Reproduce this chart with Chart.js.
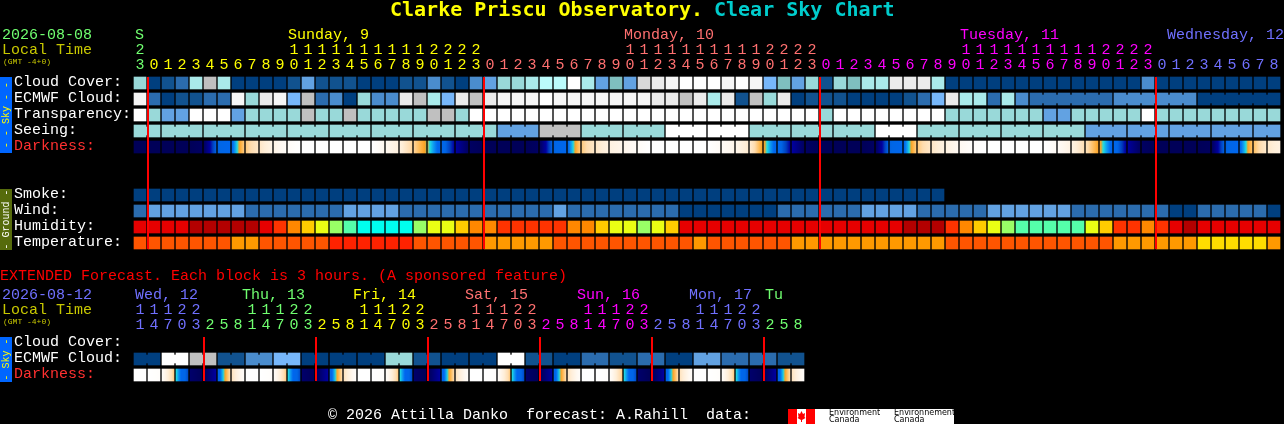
<!DOCTYPE html>
<html>
<head>
<meta charset="utf-8">
<title>Clarke Priscu Observatory. Clear Sky Chart</title>
<script src="https://cdn.jsdelivr.net/npm/chart.js@4"></script>
<style>
html,body{margin:0;padding:0;background:#000;width:1284px;height:424px;overflow:hidden}
canvas{position:absolute;left:0;display:block}
#top{top:0}
#ext{top:251px}
</style>
</head>
<body>
<canvas id="top" width="1284" height="251"></canvas>
<canvas id="ext" width="1284" height="173"></canvas>
<script>
// ---------- categories and tick labels ----------
const rowNames = ['Cloud Cover:','ECMWF Cloud:','Transparency:','Seeing:','Darkness:','','','Smoke:','Wind:','Humidity:','Temperature:'];
const extRowNames = ['Cloud Cover:','ECMWF Cloud:','Darkness:'];
const hours = [23,0,1,2,3,4,5,6,7,8,9,10,11,12,13,14,15,16,17,18,19,20,21,22,23,0,1,2,3,4,5,6,7,8,9,10,11,12,13,14,15,16,17,18,19,20,21,22,23,0,1,2,3,4,5,6,7,8,9,10,11,12,13,14,15,16,17,18,19,20,21,22,23,0,1,2,3,4,5,6,7,8];
const hourDay = [0,1,1,1,1,1,1,1,1,1,1,1,1,1,1,1,1,1,1,1,1,1,1,1,1,2,2,2,2,2,2,2,2,2,2,2,2,2,2,2,2,2,2,2,2,2,2,2,2,3,3,3,3,3,3,3,3,3,3,3,3,3,3,3,3,3,3,3,3,3,3,3,3,4,4,4,4,4,4,4,4,4];
const dayColors = ['#70ff70','#ffff00','#ff7070','#ff00ff','#7070ff'];
const extHours = [11,14,17,20,23,2,5,8,11,14,17,20,23,2,5,8,11,14,17,20,23,2,5,8,11,14,17,20,23,2,5,8,11,14,17,20,23,2,5,8,11,14,17,20,23,2,5,8];
const extDay = [0,0,0,0,0,1,1,1,1,1,1,1,1,2,2,2,2,2,2,2,2,3,3,3,3,3,3,3,3,4,4,4,4,4,4,4,4,5,5,5,5,5,5,5,5,6,6,6];
const extDayColors = ['#7070ff','#70ff70','#ffff00','#ff7070','#ff00ff','#7070ff','#70ff70'];
const midnights = [0,24,48,72];
const extMidnights = [4,12,20,28,36,44];

// ---------- palettes ----------
const skyPalette = ['#003f7f','#11528f','#2b6cae','#4a8ccd','#62a2e2','#77b7fa','#7fbfbf','#99d9d9','#aaeaea','#bbfbfb','#c0c0c0','#d9d9d9','#ebebeb','#f6f6f6','#ffffff'];
const humidityPalette = ['#b30000','#e60000','#ff3300','#ff8800','#ffcc00','#eaff14','#99ff66','#55ffaa','#00ffee'];
const temperaturePalette = ['#ff2200','#ff5500','#ff9900','#ffdd00'];

// ---------- series (palette levels) ----------
const cloudCover = [7,0,1,2,8,10,8,0,0,0,0,1,4,1,1,1,0,0,0,1,1,3,1,0,3,4,7,7,8,9,9,14,8,4,6,4,11,12,13,14,14,14,13,14,13,5,6,4,7,1,7,6,8,8,12,12,12,8,0,0,0,0,0,0,0,0,0,0,0,0,0,0,3,0,0,0,0,0,0,0,0,0];
const ecmwfCloud = [13,2,0,1,1,2,2,13,7,12,13,5,10,2,3,0,7,3,3,12,10,8,5,12,10,12,13,13,13,14,13,13,13,13,13,13,13,12,12,10,12,8,12,1,10,7,12,0,1,1,1,0,0,0,0,1,2,5,12,8,8,2,8,3,2,2,2,2,2,2,3,3,3,3,3,3,0,0,0,0,0,0];
const transparency = [14,7,4,4,14,14,14,4,7,7,7,7,10,7,7,10,7,7,7,7,7,10,10,7,14,14,14,14,14,14,14,14,14,14,14,14,14,14,14,14,14,14,14,14,14,14,14,14,14,7,14,14,14,14,14,14,14,14,7,7,7,7,7,7,7,4,4,7,7,7,7,7,14,7,7,7,7,7,7,7,7,7];
const seeing = [7,7,7,7,7,7,7,7,7,7,7,7,7,7,7,7,7,7,7,7,7,7,7,7,7,7,4,4,4,10,10,10,7,7,7,7,7,7,14,14,14,14,14,14,7,7,7,7,7,7,7,7,7,14,14,14,7,7,7,7,7,7,7,7,7,7,7,7,4,4,4,4,4,4,4,4,4,4,4,4,4,4];
const darkStart = [9,9,9,9,9,8.8,6.4,5.6,3.4,2.4,1.4,0.5,0,0,0,0,0,0,1,1.7,3.2,4.4,5.8,7.6,8.8,9,9,9,9,8.8,6.4,5.6,3.4,2.4,1.6,1.2,0.6,0,0,0,0,0,0.6,1.2,2.2,4.2,5.8,7.6,8.8,9,9,9,9,8.8,6.4,5.6,3.4,2.4,1.6,0.9,0.3,0,0,0,0,0,0.7,1.5,2.8,4.2,5.7,7.7,8.8,9,9,9,9,8.9,6.4,5.6,3.6,2.3];
const darkEnd = [9,9,9,9,8.8,6.4,5.6,3.4,2.4,1.4,0.5,0,0,0,0,0,0,1,1.7,3.2,4.4,5.8,7.6,8.8,9,9,9,9,8.8,6.4,5.6,3.4,2.4,1.6,1.2,0.6,0,0,0,0,0,0.6,1.2,2.2,4.2,5.8,7.6,8.8,9,9,9,9,8.8,6.4,5.6,3.4,2.4,1.6,0.9,0.3,0,0,0,0,0,0.7,1.5,2.8,4.2,5.7,7.7,8.8,9,9,9,9,8.9,6.4,5.6,3.6,2.3,1.6];
const smoke = [0,0,0,0,0,0,0,0,0,0,0,0,0,0,0,0,0,0,0,0,0,0,0,0,0,0,0,0,0,0,0,0,0,0,0,0,0,0,0,0,0,0,0,0,0,0,0,0,0,0,0,0,0,0,0,0,0,0];
const wind = [2,4,4,4,4,4,4,4,2,2,2,2,2,2,2,4,4,4,4,2,2,2,2,2,2,2,2,2,2,2,4,2,2,2,2,2,2,2,2,0,0,0,0,0,0,0,2,2,2,2,2,2,4,4,4,4,2,2,2,2,2,4,4,4,4,4,4,2,2,2,2,2,2,2,0,0,2,2,2,2,2,0];
const humidity = [1,1,1,1,0,0,0,0,0,1,2,3,4,5,6,7,8,8,8,8,6,5,5,4,3,3,2,2,2,2,2,3,3,4,5,5,6,5,4,1,1,1,1,1,1,1,1,1,1,1,1,1,1,1,1,0,0,0,2,3,4,5,6,7,7,7,7,7,5,4,2,2,3,2,1,0,1,1,1,1,1,1];
const temperature = [1,1,1,1,1,1,1,2,2,1,1,1,1,1,0,0,0,0,0,0,1,1,1,1,1,2,2,2,2,2,1,1,1,1,1,1,1,1,1,1,2,1,1,1,1,1,1,2,2,2,2,2,2,2,2,2,2,2,1,1,1,1,1,1,1,1,1,1,1,1,2,2,2,2,2,2,3,3,3,3,3,2];
const extEcmwf = [0,0,14,14,10,10,1,1,3,3,5,5,0,0,0,0,0,0,7,7,1,1,0,0,0,0,14,14,1,1,0,0,2,2,1,1,2,2,0,0,4,4,2,2,2,2,1,1];
const extDarkStart = [0,0,0.5,4.6,8.6,9,6,2.6,0,0,0.5,4.6,8.6,9,6,2.6,0,0,0.5,4.6,8.6,9,6,2.6,0,0,0.5,4.6,8.6,9,6,2.6,0,0,0.5,4.6,8.6,9,6,2.6,0,0,0.5,4.6,8.6,9,6,2.6];
const extDarkEnd = [0,0.3,3.4,6.8,9,7.6,3,0.4,0,0.3,3.4,6.8,9,7.6,3,0.4,0,0.3,3.4,6.8,9,7.6,3,0.4,0,0.3,3.4,6.8,9,7.6,3,0.4,0,0.3,3.4,6.8,9,7.6,3,0.4,0,0.3,3.4,6.8,9,7.6,3,0.4];

// ---------- darkness colour ramp ----------
const rampPos = [0,1,2,3,3.8,4.3,4.6,5,5.5,6.3,7,7.6,8.5,9];
const rampCol = [[255,255,255],[255,248,240],[255,238,216],[255,220,174],[255,184,80],[250,160,32],[32,224,224],[16,160,240],[0,102,238],[0,102,230],[0,64,192],[0,0,160],[0,0,112],[0,0,88]];
function rampColor(v){
  for(let i=1;i<rampPos.length;i++){
    if(v<=rampPos[i]){
      const t=(v-rampPos[i-1])/(rampPos[i]-rampPos[i-1]);
      const a=rampCol[i-1],b=rampCol[i];
      return 'rgb('+a.map((c,k)=>Math.round(c+(b[k]-c)*t)).join(',')+')';
    }
  }
  return 'rgb('+rampCol[rampCol.length-1].join(',')+')';
}
function darknessFill(starts,ends){
  return function(ctx){
    const chart=ctx.chart, i=ctx.dataIndex;
    if(i===undefined||!chart.scales.x) return '#000';
    const left=chart.scales.x.getPixelForValue(i-0.5);
    const right=chart.scales.x.getPixelForValue(i+0.5);
    if(!isFinite(left)||!isFinite(right)) return '#000';
    const g=chart.ctx.createLinearGradient(left+1,0,right-1,0);
    for(let s=0;s<=12;s++){
      g.addColorStop(s/12,rampColor(starts[i]+(ends[i]-starts[i])*s/12));
    }
    return g;
  };
}

// ---------- chart helpers ----------
const CELL_H = 0.375, NECK_H = 0.25;
function cells(values,row,palette){
  return {
    data: values.map((v,i)=>({x:i,y:[row-CELL_H,row+CELL_H]})),
    backgroundColor: values.map(v=>palette[v]),
    barThickness:12, grouped:false, borderWidth:0
  };
}
function darkCells(starts,ends,row){
  return {
    data: starts.map((v,i)=>({x:i,y:[row-CELL_H,row+CELL_H]})),
    backgroundColor: darknessFill(starts,ends),
    barThickness:12, grouped:false, borderWidth:0
  };
}
function necks(values,row,palette,joined){
  const pts=[],cols=[];
  values.forEach((v,i)=>{
    if(i<values.length-1 && joined(i)){
      pts.push({x:i+0.5,y:[row-NECK_H,row+NECK_H]});
      cols.push(palette[v]);
    }
  });
  return {data:pts,backgroundColor:cols,barThickness:4,grouped:false,borderWidth:0};
}
const seeingBlock=i=>Math.floor((i+1)/3);
const MONO='"Liberation Mono", monospace';
const TITLE='"DejaVu Sans Mono", monospace';

function textLayer(items,extra){
  return {
    id:'textLayer',
    afterDatasetsDraw(chart){
      const c=chart.ctx;
      c.save();
      extra(chart,c);
      c.textBaseline='middle';c.textAlign='left';
      items.forEach(t=>{
        c.font=t.font||('15px '+MONO);
        c.fillStyle=t.color;
        c.fillText(t.text,t.x,t.y);
      });
      c.restore();
    }
  };
}
function sideBar(c,y0,y1,col,textCol,label){
  c.fillStyle=col;c.fillRect(0,y0,12,y1-y0);
  c.save();
  c.translate(6.5,(y0+y1)/2);c.rotate(-Math.PI/2);
  c.font='10px '+MONO;c.fillStyle=textCol;c.textAlign='center';c.textBaseline='middle';
  c.fillText(label,0,0);
  c.restore();
}
function hourTickCallback(list){
  return function(v,i){
    const h=list[i];
    if(h===undefined) return '';
    return [h>=10?String(Math.floor(h/10)):'',String(h%10)];
  };
}
function clearPad(s){s.paddingLeft=0;s.paddingRight=0;s.paddingTop=0;s.paddingBottom=0;}
function makeChart(id,datasets,names,hrs,days,palette,pad,axisH,plugin){
  return new Chart(document.getElementById(id),{
    type:'bar',
    data:{datasets},
    options:{
      responsive:false,animation:false,events:[],
      layout:{padding:{left:14,right:3,top:0,bottom:pad}},
      plugins:{legend:{display:false},tooltip:{enabled:false},title:{display:false}},
      scales:{
        x:{
          type:'linear',position:'top',min:-0.5,max:81.5,offset:false,
          grid:{display:false,drawTicks:false},border:{display:false},
          afterBuildTicks:s=>{s.ticks=hrs.map((_,i)=>({value:i}));},
          afterFit:s=>{s.height=axisH;clearPad(s);},
          ticks:{
            autoSkip:false,maxRotation:0,minRotation:0,padding:2,
            font:{family:MONO,size:15,lineHeight:1},
            color:c=>palette[days[c.index]],
            callback:hourTickCallback(hrs)
          }
        },
        y:{
          type:'linear',reverse:true,min:-0.5,max:names.length-0.5,
          grid:{display:false,drawTicks:false},border:{display:false},
          afterBuildTicks:s=>{s.ticks=names.map((_,i)=>({value:i}));},
          afterFit:s=>{s.width=119;clearPad(s);},
          ticks:{
            autoSkip:false,crossAlign:'far',padding:0,labelOffset:-1,
            font:{family:MONO,size:15},
            color:c=>names[c.index]==='Darkness:'?'#ff3030':'#ffffff',
            callback:(v,i)=>names[i]
          }
        }
      }
    },
    plugins:[plugin]
  });
}

// ---------- upper chart ----------
const topSets=[
  cells(cloudCover,0,skyPalette),
  cells(ecmwfCloud,1,skyPalette),
  necks(ecmwfCloud,1,skyPalette,i=>i>=64&&Math.floor((i-64)/6)===Math.floor((i-63)/6)),
  cells(transparency,2,skyPalette),
  cells(seeing,3,skyPalette),
  necks(seeing,3,skyPalette,i=>seeingBlock(i)===seeingBlock(i+1)),
  darkCells(darkStart,darkEnd,4),
  cells(smoke,7,skyPalette),
  cells(wind,8,skyPalette),
  cells(humidity,9,humidityPalette),
  cells(temperature,10,temperaturePalette)
];
const topTexts=[
  {text:'Clarke Priscu Observatory.',x:390,y:11,color:'#ffff00',font:'bold 20px '+TITLE},
  {text:'Clear Sky Chart',x:714,y:11,color:'#00cccc',font:'bold 20px '+TITLE},
  {text:'2026-08-08',x:2,y:35,color:'#70ff70'},
  {text:'Local Time',x:2,y:50,color:'#c8c800'},
  {text:'(GMT -4+0)',x:3,y:62,color:'#c8c800',font:'8px '+MONO},
  {text:'S',x:135,y:35,color:'#70ff70'},
  {text:'Sunday, 9',x:288,y:35,color:'#ffff00'},
  {text:'Monday, 10',x:624,y:35,color:'#ff7070'},
  {text:'Tuesday, 11',x:960,y:35,color:'#ff00ff'},
  {text:'Wednesday, 12',x:1167,y:35,color:'#7070ff'}
];
makeChart('top',topSets,rowNames,hours,hourDay,dayColors,0,75,textLayer(topTexts,(chart,c)=>{
  sideBar(c,77,153,'#0066ff','#ffff00','- - Sky - -');
  sideBar(c,189,250,'#566b0c','#ffffff','- Ground -');
  c.fillStyle='#ff0000';
  const top=chart.scales.y.getPixelForValue(-CELL_H), bot=chart.scales.y.getPixelForValue(10+CELL_H);
  midnights.forEach(m=>c.fillRect(chart.scales.x.getPixelForValue(m+0.5),top,2,bot-top));
}));

// ---------- extended chart ----------
const extSets=[
  cells(extEcmwf,1,skyPalette),
  necks(extEcmwf,1,skyPalette,i=>i%2===0),
  darkCells(extDarkStart,extDarkEnd,2)
];
const OFF=251;
const extTexts=[
  {text:'EXTENDED Forecast. Each block is 3 hours. (A sponsored feature)',x:0,y:276-OFF,color:'#ff0000'},
  {text:'2026-08-12',x:2,y:295-OFF,color:'#7070ff'},
  {text:'Local Time',x:2,y:310-OFF,color:'#c8c800'},
  {text:'(GMT -4+0)',x:3,y:322-OFF,color:'#c8c800',font:'8px '+MONO},
  {text:'Wed, 12',x:135,y:295-OFF,color:'#7070ff'},
  {text:'Thu, 13',x:242,y:295-OFF,color:'#70ff70'},
  {text:'Fri, 14',x:353,y:295-OFF,color:'#ffff00'},
  {text:'Sat, 15',x:465,y:295-OFF,color:'#ff7070'},
  {text:'Sun, 16',x:577,y:295-OFF,color:'#ff00ff'},
  {text:'Mon, 17',x:689,y:295-OFF,color:'#7070ff'},
  {text:'Tu',x:765,y:295-OFF,color:'#70ff70'},
  {text:'© 2026 Attilla Danko  forecast: A.Rahill  data:',x:328,y:415-OFF,color:'#ffffff'},
  {text:'Environment',x:829,y:413-OFF,color:'#000000',font:'8px "DejaVu Sans", sans-serif'},
  {text:'Canada',x:829,y:420-OFF,color:'#000000',font:'8px "DejaVu Sans", sans-serif'},
  {text:'Environnement',x:894,y:413-OFF,color:'#000000',font:'8px "DejaVu Sans", sans-serif'},
  {text:'Canada',x:894,y:420-OFF,color:'#000000',font:'8px "DejaVu Sans", sans-serif'}
];
makeChart('ext',extSets,extRowNames,extHours,extDay,extDayColors,41,84,textLayer(extTexts,(chart,c)=>{
  sideBar(c,337-OFF,382-OFF,'#0066ff','#ffff00','- Sky -');
  c.fillStyle='#ff0000';
  const top=chart.scales.y.getPixelForValue(-CELL_H), bot=chart.scales.y.getPixelForValue(2+CELL_H);
  extMidnights.forEach(m=>c.fillRect(chart.scales.x.getPixelForValue(m+0.5),top,2,bot-top));
  // logo strip
  const y=409-OFF;
  c.fillStyle='#ffffff';c.fillRect(788,y,166,15);
  c.fillStyle='#ff0000';c.fillRect(788,y,9,15);c.fillRect(806,y,9,15);
  c.beginPath();
  [[801.5,y+2],[803,y+5],[805,y+4],[804.5,y+8],[805.5,y+9],[802,y+11],[802,y+13],[801,y+13],[801,y+11],[797.5,y+9],[798.5,y+8],[798,y+4],[800,y+5]].forEach((p,i)=>i?c.lineTo(p[0],p[1]):c.moveTo(p[0],p[1]));
  c.closePath();c.fill();
}));
</script>
</body>
</html>
